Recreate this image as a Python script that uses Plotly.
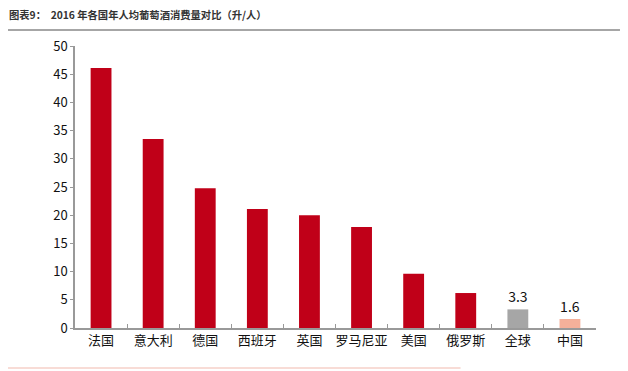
import plotly.graph_objects as go

categories = ["法国", "意大利", "德国", "西班牙", "英国", "罗马尼亚", "美国", "俄罗斯", "全球", "中国"]
values = [46.1, 33.5, 24.8, 21.1, 20.0, 17.9, 9.6, 6.2, 3.3, 1.6]
bar_colors = ["#C00018"] * 8 + ["#A6A6A6", "#F4B09A"]
labels = [""] * 8 + ["3.3", "1.6"]
y_ticks = [0, 5, 10, 15, 20, 25, 30, 35, 40, 45, 50]

font = "Noto Sans CJK SC, Liberation Sans, Arial, sans-serif"

fig = go.Figure(go.Bar(
    x=categories, y=values, marker_color=bar_colors, marker_line_width=0,
    text=labels, textposition="outside", cliponaxis=False,
    textfont=dict(size=14, color="#111111", family=font),
))

fig.update_layout(
    width=628, height=371,
    margin=dict(l=67, r=40, t=38, b=51, autoexpand=False),
    paper_bgcolor="white", plot_bgcolor="white",
    bargap=0.6, showlegend=False,
    font=dict(family=font, size=13, color="#111111"),
    shapes=[
        dict(type="line", xref="paper", yref="paper", x0=-0.144, x1=1.046, y0=1.057, y1=1.057,
             line=dict(color="#888888", width=1.5)),
        dict(type="line", xref="paper", yref="paper", x0=-0.144, x1=0.74, y0=-0.142, y1=-0.142,
             line=dict(color="#F8DCD6", width=2)),
    ],
    annotations=[
        dict(text="<b>图表9：  2016 年各国年人均葡萄酒消费量对比（升/人）</b>", xref="paper", yref="paper",
             x=-0.13, y=1.11, xanchor="left", yanchor="middle", showarrow=False,
             font=dict(size=10.3, color="#333333", family=font)),
    ],
)

fig.update_xaxes(
    showline=True, linecolor="#999999", linewidth=1.5,
    ticks="inside", tickson="boundaries", ticklen=4, tickcolor="#999999",
    tickangle=0, automargin=False,
    tickfont=dict(size=13, color="#111111"),
)
fig.update_yaxes(
    range=[0, 50], tickvals=y_ticks, showgrid=False, zeroline=False,
    showline=True, linecolor="#999999", linewidth=1.5,
    ticks="outside", ticklen=3, tickcolor="#999999", automargin=False,
    tickfont=dict(size=13, color="#111111"),
)

fig.write_html("out.html")
